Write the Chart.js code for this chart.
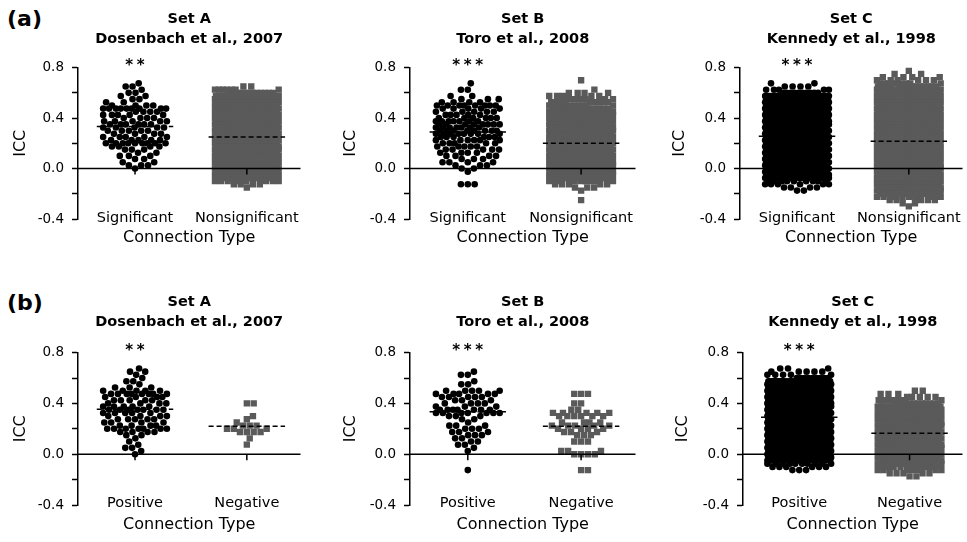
<!DOCTYPE html>
<html>
<head>
<meta charset="utf-8">
<script src="https://cdn.jsdelivr.net/npm/chart.js@4.4.0/dist/chart.umd.min.js"></script>
<style>
  body { margin: 0; background: #fff; width: 967px; height: 542px; position: relative; overflow: hidden; }
  canvas { position: absolute; }
  .tag { position: absolute; left: 7px; font: bold 22px 'DejaVu Sans', sans-serif; line-height: 22px; color: #000; }
</style>
</head>
<body>
<div class="tag" style="top:8px">(a)</div>
<div class="tag" style="top:292px">(b)</div>
<canvas id="c0"></canvas>
<canvas id="c1"></canvas>
<canvas id="c2"></canvas>
<canvas id="c3"></canvas>
<canvas id="c4"></canvas>
<canvas id="c5"></canvas>
<script>
// ICC levels (bins) the points sit on, -0.300 .. 0.775
const iccLevels = [
  -0.300, -0.275, -0.250, -0.225, -0.200, -0.175, -0.150, -0.125, -0.100, -0.075, -0.050,
  -0.025, 0.000, 0.025, 0.050, 0.075, 0.100, 0.125, 0.150, 0.175, 0.200, 0.225,
  0.250, 0.275, 0.300, 0.325, 0.350, 0.375, 0.400, 0.425, 0.450, 0.475, 0.500,
  0.525, 0.550, 0.575, 0.600, 0.625, 0.650, 0.675, 0.700, 0.725, 0.750, 0.775
];

// number of connections at each level
// (a) significant vs nonsignificant
const countsA_sig = [0,0,0,0,0,0,0,0,0,0,0, 0,1,3,2,2,3,2,3,4,9,5, 5,4,5,5,6,5,4,5,4,9,4, 2,2,2,2,1,2,1,0,0,0,0];
const countsA_nonsig = [0,0,0,0,0,0,1,4,8,12,20, 20,20,20,20,20,20,20,20,20,20,20, 20,20,20,20,20,20,20,20,20,20,20, 20,20,20,12,7,2,0,0,0,0,0];
const countsB_sig = [0,0,0,0,0,0,0,3,0,0,0, 1,2,3,4,3,4,4,5,5,5,6, 6,8,8,7,8,7,6,5,5,5,8, 4,3,2,0,2,0,1,0,0,0,0];
const countsB_nonsig = [0,0,1,0,0,1,3,5,8,12,18, 18,18,18,18,18,18,18,18,18,18,18, 18,18,18,18,18,18,18,18,18,14,11, 9,7,5,4,1,0,0,1,0,0,0];
const countsC_sig = [0,0,0,0,0,2,4,6,9,14,22, 22,22,22,22,22,22,22,22,22,22,22, 22,22,22,22,22,22,22,22,22,22,22, 22,22,22,10,5,4,2,0,0,0,0];
const countsC_nonsig = [1,2,5,8,12,22,22,22,22,22,22, 22,22,22,22,22,22,22,22,22,22,22, 22,22,22,22,22,22,22,22,22,22,22, 22,22,22,22,22,14,8,6,4,2,1];
// (b) positive vs negative
const countsA_pos = [0,0,0,0,0,0,0,0,0,0,0, 0,1,1,2,1,1,1,2,4,7,4, 4,5,4,5,7,5,4,5,4,8,5, 3,1,2,1,1,2,1,0,0,0,0];
const countsA_neg = [0,0,0,0,0,0,0,0,0,0,0, 0,0,0,0,1,0,1,0,4,3,3, 1,1,1,0,0,0,2,0,0,0,0, 0,0,0,0,0,0,0,0,0,0,0];
const countsB_pos = [0,0,0,0,0,0,0,1,0,0,0, 0,0,1,1,2,2,2,3,3,3,3, 1,2,3,7,7,3,4,3,5,5,5, 0,2,1,0,2,1,0,0,0,0,0];
const countsB_neg = [0,0,0,0,0,0,0,2,0,0,0, 0,4,3,0,0,3,0,3,3,4,5, 4,0,6,5,2,0,2,0,0,3,0, 0,0,0,0,0,0,0,0,0,0,0];
const countsC_pos = [0,0,0,0,0,0,0,3,6,10,22, 22,22,22,22,22,22,22,22,22,22,22, 22,22,22,22,22,22,22,22,22,22,22, 22,22,22,9,5,5,3,0,0,0,0];
const countsC_neg = [0,0,0,0,0,2,5,7,10,14,20, 20,20,20,20,20,20,20,20,20,20,20, 20,20,20,20,20,20,12,8,5,3,2, 0,0,0,0,0,0,0,0,0,0,0];

// group means (horizontal lines)
const groupMeans = [[0.333, 0.25], [0.29, 0.20], [0.256, 0.216], [0.354, 0.22], [0.335, 0.22], [0.29, 0.164]];

const setTitles = ['Set A', 'Set B', 'Set C'];
const studyTitles = ['Dosenbach et al., 2007', 'Toro et al., 2008', 'Kennedy et al., 1998'];
const starLabels = ['**', '***', '***'];
const catsTop = ['Significant', 'Nonsignificant'];
const catsBottom = ['Positive', 'Negative'];
const yTicks = [-0.4, -0.2, 0, 0.2, 0.4, 0.6, 0.8];

const panelCounts = [
  [countsA_sig, countsA_nonsig], [countsB_sig, countsB_nonsig], [countsC_sig, countsC_nonsig],
  [countsA_pos, countsA_neg], [countsB_pos, countsB_neg], [countsC_pos, countsC_neg]
];

Chart.defaults.font.family = "'DejaVu Sans', sans-serif";
Chart.defaults.color = '#000';

// canvas placement of each panel
const panels = [
  {left: 8, top: 0, w: 297, h: 250, icc: 3},
  {left: 340, top: 0, w: 300, h: 250, icc: 1},
  {left: 670, top: 0, w: 297, h: 250, icc: 0},
  {left: 8, top: 283, w: 297, h: 254, icc: 3},
  {left: 340, top: 283, w: 300, h: 254, icc: 1},
  {left: 673, top: 283, w: 294, h: 254, icc: 0}
];
const titlePadBottom = [18, 20];
const xAxisHeight = [28, 29];
const xLabelPad = [-8, -7];

// simple beeswarm in pixel space, clamped to a max half width
function swarm(counts, yScale, d, halfW) {
  const vals = [];
  iccLevels.forEach((v, i) => { for (let k = 0; k < counts[i]; k++) vals.push(v); });
  const placed = [];
  const d2 = d * d;
  vals.forEach(v => {
    const y = yScale.getPixelForValue(v);
    const near = placed.filter(p => Math.abs(p.y - y) < d);
    const cands = [0];
    near.forEach(p => {
      const dx = Math.sqrt(d2 - (p.y - y) * (p.y - y)) + 0.01;
      cands.push(p.x + dx, p.x - dx);
    });
    cands.sort((a, b) => Math.abs(a) - Math.abs(b));
    let best = null;
    for (const c of cands) {
      if (Math.abs(c) > halfW) break;
      if (near.every(p => (p.x - c) * (p.x - c) + (p.y - y) * (p.y - y) >= d2 - 0.05)) { best = c; break; }
    }
    if (best === null) {
      // no free spot left: take the least crowded one
      let bestScore = -1;
      for (let c = -halfW; c <= halfW; c += 1) {
        let m = Infinity;
        near.forEach(p => { m = Math.min(m, (p.x - c) * (p.x - c) + (p.y - y) * (p.y - y)); });
        if (m > bestScore) { bestScore = m; best = c; }
      }
    }
    placed.push({x: best, y: y, v: v});
  });
  return placed;
}

const decor = {
  id: 'decor',
  afterDatasetsDraw(chart, args, opts) {
    const {ctx, chartArea, scales: {x, y}} = chart;
    const y0 = y.getPixelForValue(0);
    ctx.save();
    ctx.strokeStyle = '#000';
    ctx.lineWidth = 1.5;
    ctx.beginPath();
    ctx.moveTo(chartArea.left, y0);
    ctx.lineTo(chartArea.right, y0);
    [1, 2].forEach(c => {
      const px = x.getPixelForValue(c);
      ctx.moveTo(px, y0);
      ctx.lineTo(px, y0 + 6);
    });
    ctx.stroke();
    // significance stars
    ctx.fillStyle = '#000';
    ctx.font = "bold 15px 'DejaVu Sans'";
    ctx.textAlign = 'center';
    ctx.textBaseline = 'alphabetic';
    const n = opts.stars.length;
    const sx = x.getPixelForValue(1);
    const sy = y.getPixelForValue(0.8) + 2;
    for (let i = 0; i < n; i++) ctx.fillText('*', sx + (i - (n - 1) / 2) * 11.5, sy);
    ctx.restore();
  }
};

panels.forEach((p, idx) => {
  const row = idx < 3 ? 0 : 1;
  const col = idx % 3;
  const cats = row === 0 ? catsTop : catsBottom;
  const canvas = document.getElementById('c' + idx);
  canvas.width = p.w;
  canvas.height = p.h;
  canvas.style.left = p.left + 'px';
  canvas.style.top = p.top + 'px';

  const chart = new Chart(canvas, {
    type: 'scatter',
    data: {
      datasets: [
        {data: [], showLine: true, borderColor: '#000', borderWidth: 1.5, borderDash: [5, 3], pointRadius: 0, order: 0},
        {data: [], showLine: true, borderColor: '#000', borderWidth: 1.5, borderDash: [5, 3], pointRadius: 0, order: 0},
        {data: [], pointStyle: 'circle', pointRadius: 3.3, pointBackgroundColor: '#000', pointBorderWidth: 0, order: 1},
        {data: [], pointStyle: 'rect', pointRadius: 4.5, pointBackgroundColor: '#5a5a5a', pointBorderWidth: 0, order: 1}
      ]
    },
    options: {
      responsive: false,
      animation: false,
      events: [],
      layout: {padding: {left: 0, right: 0, top: 0, bottom: 3}},
      plugins: {
        legend: {display: false},
        tooltip: {enabled: false},
        title: {
          display: true,
          fullSize: false,
          text: [setTitles[col], studyTitles[col]],
          font: {size: 14.5, weight: 'bold', lineHeight: 1.4},
          color: '#000',
          padding: {top: 9, bottom: titlePadBottom[row]}
        },
        decor: {stars: starLabels[col]}
      },
      scales: {
        x: {
          type: 'linear',
          min: 0.49,
          max: 2.48,
          grid: {display: false},
          border: {display: false},
          afterBuildTicks: s => { s.ticks = [{value: 1}, {value: 2}]; },
          afterFit: s => { s.height = xAxisHeight[row]; },
          ticks: {
            font: {size: 14.5},
            color: '#000',
            mirror: true,
            padding: xLabelPad[row],
            autoSkip: false,
            maxRotation: 0,
            callback: v => v === 1 ? cats[0] : (v === 2 ? cats[1] : '')
          },
          title: {display: true, text: 'Connection Type', font: {size: 16}, color: '#000', padding: {top: 0, bottom: 0}}
        },
        y: {
          min: -0.4,
          max: 0.8,
          afterBuildTicks: s => { s.ticks = yTicks.map(v => ({value: v})); },
          afterFit: s => { s.width = 70; },
          grid: {display: true, drawOnChartArea: false, drawTicks: true, tickLength: 6, tickColor: '#000', tickWidth: 1.5},
          border: {display: true, color: '#000', width: 1.5},
          ticks: {
            font: {size: 13.5},
            color: '#000',
            padding: 8,
            callback: v => (Math.abs(Math.round(v * 10)) % 4 === 0) ? v.toFixed(1) : ''
          },
          title: {display: true, text: 'ICC', font: {size: 16}, color: '#000', padding: {top: p.icc, bottom: 0}}
        }
      }
    },
    plugins: [decor]
  });

  // lay the points out as a swarm once the scales are known
  const xs = chart.scales.x, ys = chart.scales.y;
  const ppu = xs.getPixelForValue(2) - xs.getPixelForValue(1);
  const means = groupMeans[idx];
  panelCounts[idx].forEach((counts, gi) => {
    const cat = gi + 1;
    const pts = swarm(counts, ys, 7, 32.5);
    chart.data.datasets[2 + gi].data = pts.map(q => ({x: cat + q.x / ppu, y: q.v}));
    const hw = 39 / ppu;
    chart.data.datasets[gi].data = [{x: cat - hw, y: means[gi]}, {x: cat + hw, y: means[gi]}];
  });
  chart.update();
});
</script>
</body>
</html>
